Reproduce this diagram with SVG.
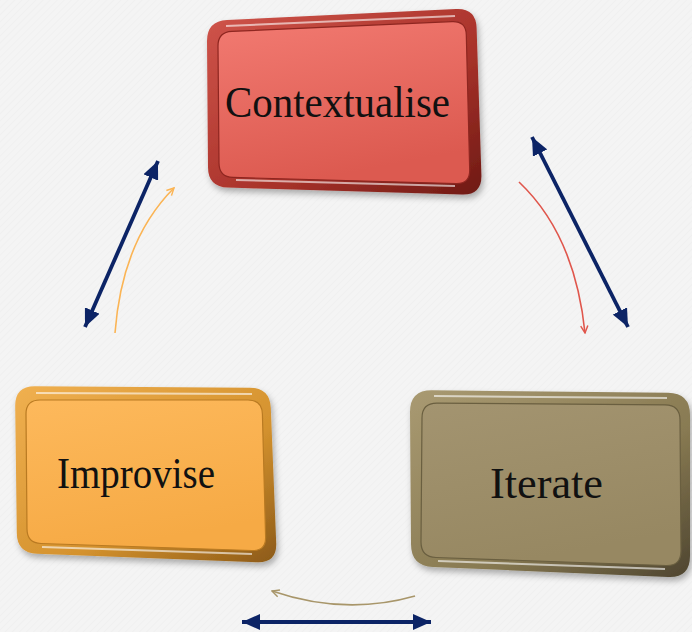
<svg xmlns="http://www.w3.org/2000/svg" width="692" height="632" viewBox="0 0 692 632">
<defs>
<style>
.lbl{font-family:"Liberation Serif","Times New Roman",serif;font-size:44px;fill:#111;text-anchor:middle}
.nav{stroke:#0c2466;stroke-width:3.8;fill:none;marker-start:url(#nh);marker-end:url(#nh)}
.thin{fill:none;stroke-width:1.6}
.hl{fill:none;stroke:#fff;stroke-opacity:0.6;stroke-width:2}
</style>
<pattern id="bgp" width="5" height="5" patternUnits="userSpaceOnUse" patternTransform="rotate(45)">
<rect width="5" height="5" fill="#f4f4f4"/>
<line x1="0" y1="0" x2="0" y2="5" stroke="#eeeeee" stroke-width="1.2"/>
</pattern>
<filter id="sh" x="-10%" y="-10%" width="125%" height="130%">
<feDropShadow dx="2" dy="4" stdDeviation="3" flood-color="#000" flood-opacity="0.3"/>
</filter>
<marker id="nh" viewBox="0 0 18 16" refX="18" refY="8" markerWidth="18" markerHeight="16" markerUnits="userSpaceOnUse" orient="auto-start-reverse">
<path d="M0,0 L18,8 L0,16 Z" fill="#0c2466"/>
</marker>
<marker id="ho" viewBox="0 0 10 10" refX="9" refY="5" markerWidth="9" markerHeight="9" markerUnits="userSpaceOnUse" orient="auto">
<path d="M1,1 L9,5 L1,9" fill="none" stroke="#fbb454" stroke-width="1.6"/>
</marker>
<marker id="hr" viewBox="0 0 10 10" refX="9" refY="5" markerWidth="9" markerHeight="9" markerUnits="userSpaceOnUse" orient="auto">
<path d="M1,1 L9,5 L1,9" fill="none" stroke="#e0564c" stroke-width="1.6"/>
</marker>
<marker id="ht" viewBox="0 0 10 10" refX="9" refY="5" markerWidth="9" markerHeight="9" markerUnits="userSpaceOnUse" orient="auto">
<path d="M1,1 L9,5 L1,9" fill="none" stroke="#a8966a" stroke-width="1.6"/>
</marker>
<linearGradient id="cRim" x1="0" y1="0" x2="1" y2="1">
<stop offset="0" stop-color="#d0554b"/><stop offset="0.6" stop-color="#a8322a"/><stop offset="1" stop-color="#6e1a14"/>
</linearGradient>
<linearGradient id="cFace" x1="0" y1="0" x2="0.3" y2="1">
<stop offset="0" stop-color="#f27a71"/><stop offset="1" stop-color="#dc5a50"/>
</linearGradient>
<linearGradient id="iRim" x1="0" y1="0" x2="1" y2="1">
<stop offset="0" stop-color="#f0b050"/><stop offset="0.6" stop-color="#d4922e"/><stop offset="1" stop-color="#8c5a18"/>
</linearGradient>
<linearGradient id="iFace" x1="0" y1="0" x2="0.3" y2="1">
<stop offset="0" stop-color="#fdb95c"/><stop offset="1" stop-color="#f6aa45"/>
</linearGradient>
<linearGradient id="tRim" x1="0" y1="0" x2="1" y2="1">
<stop offset="0" stop-color="#a99a72"/><stop offset="0.6" stop-color="#887a52"/><stop offset="1" stop-color="#4e4530"/>
</linearGradient>
<linearGradient id="tFace" x1="0" y1="0" x2="0.3" y2="1">
<stop offset="0" stop-color="#a39470"/><stop offset="1" stop-color="#978862"/>
</linearGradient>
</defs>
<rect width="692" height="632" fill="url(#bgp)"/>

<g id="connectors">
<line class="nav" x1="85" y1="327" x2="158" y2="161"/>
<line class="nav" x1="532" y1="137" x2="628" y2="327"/>
<line class="nav" x1="242" y1="622" x2="431" y2="622"/>
<path class="thin" stroke="#fbb454" d="M115,333 Q122,240 174,188" marker-end="url(#ho)"/>
<path class="thin" stroke="#e0564c" d="M519,182 Q575,235 585,333" marker-end="url(#hr)"/>
<path class="thin" stroke="#a8966a" d="M415,596 Q345,616 272,591" marker-end="url(#ht)"/>
</g>

<g id="contextualise">
<path filter="url(#sh)" fill="url(#cRim)" d="M227,20 L456,9 Q476,8 476.6,28 L481.4,175 Q482,195 462,194.4 L228,187.6 Q208,187 208,167 L207,41 Q207,21 227,20 Z"/>
<path fill="url(#cFace)" stroke="#8e2620" stroke-width="1.2" d="M232,31.4 L452,21.6 Q466,21 466.3,35 L469.7,170 Q470,184 456,183.6 L233,177.4 Q219,177 219,163 L218,46 Q218,32 232,31.4 Z"/>
<path class="hl" d="M236,180 L455,186"/>
<path class="hl" d="M226,26 L455,16"/>
<text class="lbl" x="337.5" y="117" textLength="225" lengthAdjust="spacingAndGlyphs">Contextualise</text>
</g>

<g id="improvise">
<path filter="url(#sh)" fill="url(#iRim)" d="M35,386.2 L250,387.8 Q270,388 270.8,408 L276.2,543 Q277,563 257,562.2 L37,553.8 Q17,553 16.8,533 L15.2,406 Q15,386 35,386.2 Z"/>
<path fill="url(#iFace)" stroke="#b97a22" stroke-width="1.2" d="M40,400 L248,400 Q262,400 262.4,414 L265.6,537 Q266,551 252,550.5 L41,543.5 Q27,543 27,529 L26,414 Q26,400 40,400 Z"/>
<path class="hl" d="M42,547 L252,554"/>
<path class="hl" d="M36,393 L252,394"/>
<text class="lbl" x="136" y="488" textLength="158" lengthAdjust="spacingAndGlyphs">Improvise</text>
</g>

<g id="iterate">
<path filter="url(#sh)" fill="url(#tRim)" d="M432,390.2 L668,392.8 Q690,393 690,415 L690,556 Q690,578 668,577 L433,567 Q411,566 411,544 L410,412 Q410,390 432,390.2 Z"/>
<path fill="url(#tFace)" stroke="#6a5f40" stroke-width="1.2" d="M437,403.1 L665,404.9 Q680,405 680,420 L681,551 Q681,566 666,565.5 L436,557.5 Q421,557 421,542 L422,418 Q422,403 437,403.1 Z"/>
<path class="hl" d="M438,561 L665,569"/>
<path class="hl" d="M434,396 L667,398"/>
<text class="lbl" x="546.5" y="498" textLength="113" lengthAdjust="spacingAndGlyphs">Iterate</text>
</g>
</svg>
